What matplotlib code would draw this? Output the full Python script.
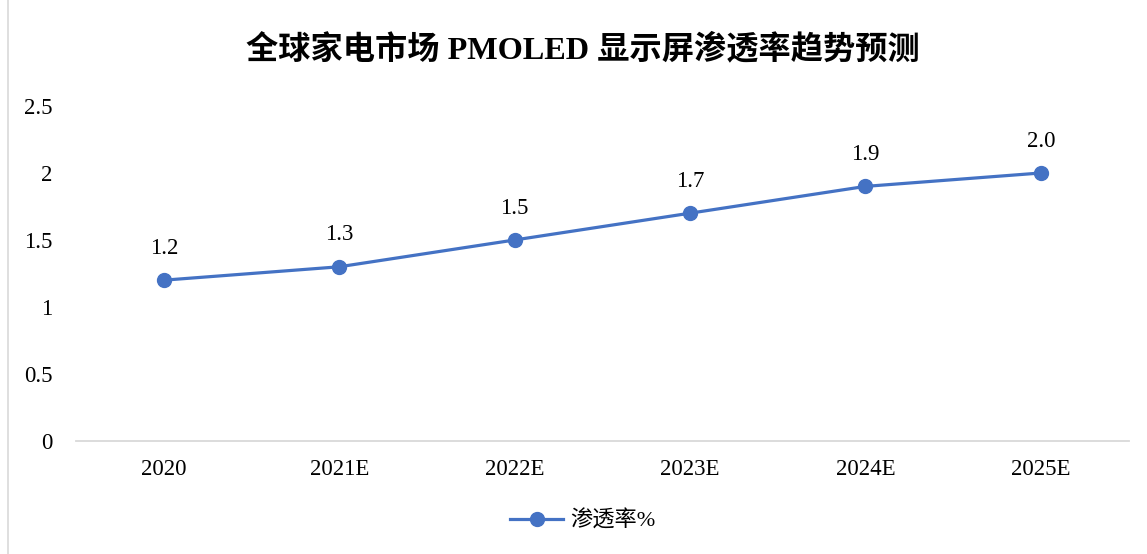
import matplotlib
matplotlib.use("Agg")
import matplotlib.pyplot as plt
from matplotlib.lines import Line2D

plt.rcParams['font.family'] = ['Liberation Serif', 'Noto Sans CJK SC']

categories = ["2020", "2021E", "2022E", "2023E", "2024E", "2025E"]
rate = [1.2, 1.3, 1.5, 1.7, 1.9, 2.0]
title = "全球家电市场 PMOLED 显示屏渗透率趋势预测"
series_name = "渗透率%"
yticks = [0, 0.5, 1, 1.5, 2, 2.5]
ytick_labels = ["0", "0.5", "1", "1.5", "2", "2.5"]

blue = "#4472C4"
fig = plt.figure(figsize=(11.47, 5.54), dpi=100)
ax = fig.add_axes([0.0663, 0.204, 0.9177, 0.6047])

x = range(len(categories))
ax.plot(x, rate, color=blue, lw=2.3, marker="o", ms=10, label=series_name)
for xi, v in zip(x, rate):
    ax.annotate(f"{v:.1f}", (xi, v), xytext=(0, 23), textcoords="offset points",
                ha="center", va="center", fontsize=16.5)

ax.set_xlim(-0.5, len(categories) - 0.5)
ax.set_ylim(0, 2.5)
ax.set_xticks(list(x))
ax.set_xticklabels(categories, fontsize=16.5)
ax.set_yticks(yticks)
ax.set_yticklabels(ytick_labels, fontsize=16.5)
ax.tick_params(axis="x", length=0, pad=13)
ax.tick_params(axis="y", length=0, pad=17)
for s in ["top", "right", "left"]:
    ax.spines[s].set_visible(False)
ax.spines["bottom"].set_color("#D9D9D9")
ax.spines["bottom"].set_linewidth(1.3)

fig.text(0.508, 0.91, title, ha="center", va="center", fontsize=23.2, fontweight="bold")

handle = Line2D([], [], color=blue, lw=2.3, marker="o", ms=10)
fig.legend([handle], [series_name], loc="center", bbox_to_anchor=(0.508, 0.06),
           frameon=False, fontsize=16, handlelength=2.4, handletextpad=0.3)

# left edge border line
fig.add_artist(Line2D([8 / 1147, 8 / 1147], [0, 1], color="#D9D9D9", lw=1.2,
                      transform=fig.transFigure))

fig.savefig("out.png", dpi=100)
